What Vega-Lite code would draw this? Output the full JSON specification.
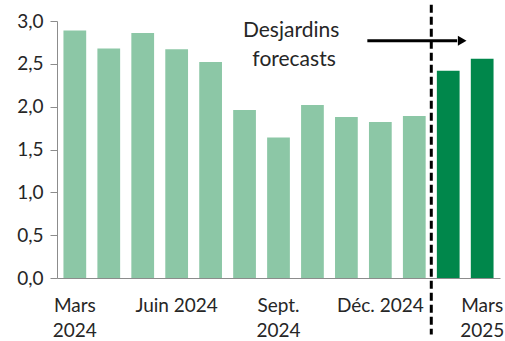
{
  "$schema": "https://vega.github.io/schema/vega-lite/v6.json",
  "autosize": "none",
  "width": 443,
  "height": 257,
  "padding": {"left": 57, "top": 21, "right": 5, "bottom": 63},
  "background": "white",
  "config": {
    "view": {"stroke": null},
    "font": "Lato",
    "axis": {"labelFont": "Lato", "labelFontSize": 19, "labelColor": "#262626", "domainColor": "#8c8c8c", "tickColor": "#8c8c8c", "grid": false, "title": null}
  },
  "datasets": {
    "bars": [
      {"month": "Mars 2024", "value": 2.89, "type": "Actual"},
      {"month": "Avr. 2024", "value": 2.68, "type": "Actual"},
      {"month": "Mai 2024", "value": 2.86, "type": "Actual"},
      {"month": "Juin 2024", "value": 2.67, "type": "Actual"},
      {"month": "Juil. 2024", "value": 2.52, "type": "Actual"},
      {"month": "Août 2024", "value": 1.96, "type": "Actual"},
      {"month": "Sept. 2024", "value": 1.64, "type": "Actual"},
      {"month": "Oct. 2024", "value": 2.02, "type": "Actual"},
      {"month": "Nov. 2024", "value": 1.88, "type": "Actual"},
      {"month": "Déc. 2024", "value": 1.82, "type": "Actual"},
      {"month": "Janv. 2025", "value": 1.89, "type": "Actual"},
      {"month": "Févr. 2025", "value": 2.42, "type": "Forecast"},
      {"month": "Mars 2025", "value": 2.56, "type": "Forecast"}
    ],
    "divider": [{"month": "Janv. 2025", "top": 3.19, "bottom": -0.66}],
    "labels": [
      {"month": "Oct. 2024", "y": 2.88, "text": "Desjardins", "shift": -10},
      {"month": "Oct. 2024", "y": 2.545, "text": "forecasts", "shift": -7}
    ],
    "arrow": [{"start": "Déc. 2024", "end": "Mars 2025", "y": 2.77}]
  },
  "encoding": {
    "x": {
      "field": "month",
      "type": "nominal",
      "scale": {
        "domain": ["Mars 2024", "Avr. 2024", "Mai 2024", "Juin 2024", "Juil. 2024", "Août 2024", "Sept. 2024", "Oct. 2024", "Nov. 2024", "Déc. 2024", "Janv. 2025", "Févr. 2025", "Mars 2025"],
        "paddingInner": 0.33,
        "paddingOuter": 0.19
      },
      "axis": {
        "labelAngle": 0,
        "ticks": false,
        "labelPadding": 18,
        "labelLineHeight": 25,
        "labelBaseline": "top",
        "labelOverlap": false,
        "labelExpr": "(datum.value == 'Mars 2024' || datum.value == 'Sept. 2024' || datum.value == 'Mars 2025') ? split(datum.value, ' ') : ((datum.value == 'Juin 2024' || datum.value == 'Déc. 2024') ? datum.value : '')"
      }
    }
  },
  "layer": [
    {
      "data": {"name": "bars"},
      "mark": {"type": "bar"},
      "encoding": {
        "y": {
          "field": "value",
          "type": "quantitative",
          "scale": {"domain": [0, 3]},
          "axis": {"values": [0, 0.5, 1, 1.5, 2, 2.5, 3], "tickSize": 7, "labelPadding": 7, "labelExpr": "replace(format(datum.value, '.1f'), '.', ',')"}
        },
        "color": {
          "field": "type",
          "type": "nominal",
          "scale": {"domain": ["Actual", "Forecast"], "range": ["#8cc7a6", "#00874b"]},
          "legend": null
        }
      }
    },
    {
      "data": {"name": "divider"},
      "mark": {"type": "rule", "color": "black", "strokeWidth": 3, "strokeDash": [8, 4], "xOffset": 17},
      "encoding": {
        "y": {"field": "top", "type": "quantitative"},
        "y2": {"field": "bottom"}
      }
    },
    {
      "data": {"name": "arrow"},
      "mark": {"type": "rule", "color": "black", "strokeWidth": 3, "xOffset": -13, "x2Offset": -25},
      "encoding": {
        "x": {"field": "start", "type": "nominal"},
        "x2": {"field": "end"},
        "y": {"field": "y", "type": "quantitative"}
      }
    },
    {
      "data": {"name": "arrow"},
      "mark": {"type": "point", "shape": "triangle-right", "filled": true, "color": "black", "opacity": 1, "size": 100, "xOffset": -20},
      "encoding": {
        "x": {"field": "end", "type": "nominal"},
        "y": {"field": "y", "type": "quantitative"}
      }
    },
    {
      "data": {"name": "labels"},
      "mark": {"type": "text", "font": "Lato", "fontSize": 21, "color": "#262626", "align": "center", "baseline": "middle"},
      "encoding": {
        "y": {"field": "y", "type": "quantitative"},
        "xOffset": {"field": "shift", "type": "quantitative", "scale": null},
        "text": {"field": "text"}
      }
    }
  ]
}
